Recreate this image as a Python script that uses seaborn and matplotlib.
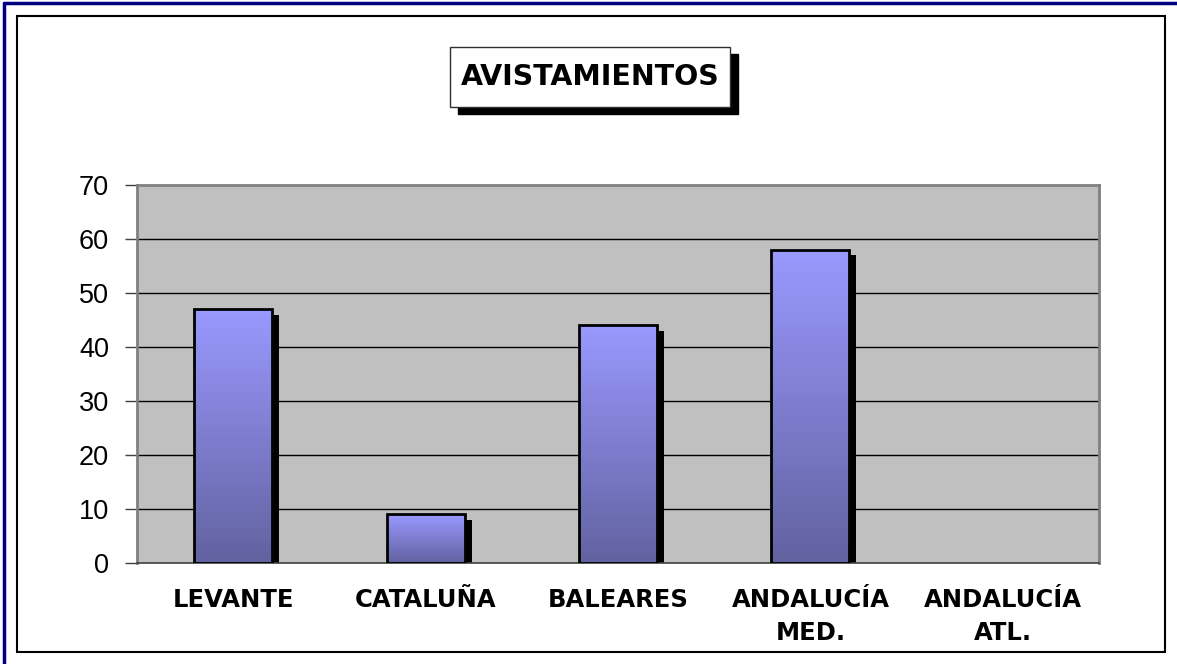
import numpy as np
import pandas as pd
import matplotlib
matplotlib.use('Agg')
import matplotlib.pyplot as plt
import matplotlib.patheffects as pe
from matplotlib.patches import Rectangle
from matplotlib.colors import LinearSegmentedColormap
import seaborn as sns

# Data
regiones = ['LEVANTE', 'CATALUÑA', 'BALEARES', 'ANDALUCÍA\nMED.', 'ANDALUCÍA\nATL.']
avistamientos = [47, 9, 44, 58, 0]
y_ticks = [0, 10, 20, 30, 40, 50, 60, 70]
titulo = 'AVISTAMIENTOS'

df = pd.DataFrame({'region': regiones, 'n': avistamientos})

sns.set_style('white')
plt.rcParams['font.family'] = ['DejaVu Sans']
plt.rcParams['text.color'] = 'black'
plt.rcParams['xtick.labelcolor'] = 'black'
plt.rcParams['ytick.labelcolor'] = 'black'

W, H = 1177, 664
fig = plt.figure(figsize=(W / 100, H / 100), dpi=100)
ax = fig.add_axes([137 / W, (H - 563) / H, 962 / W, 378 / H])
ax.set_facecolor('#C0C0C0')

sns.barplot(data=df, x='region', y='n', color='#9999FF', width=0.405,
            saturation=1, ax=ax, zorder=2)

# gradient fill, shadow and edge for each bar
grad = LinearSegmentedColormap.from_list('g', ['#6262A0', '#9999FF'])
g = np.linspace(0, 1, 256).reshape(-1, 1)
for p in ax.patches:
    if p.get_height() <= 0:
        p.set_visible(False)
        continue
    x0, w, h = p.get_x(), p.get_width(), p.get_height()
    p.set_path_effects([pe.SimplePatchShadow(offset=(5, -4), shadow_rgbFace='black', alpha=1),
                        pe.Normal()])
    im = ax.imshow(g, cmap=grad, aspect='auto', origin='lower',
                   extent=(x0, x0 + w, 0, h), zorder=2.5)
    im.set_clip_path(p)
    ax.add_patch(Rectangle((x0, 0), w, h, fill=False, edgecolor='black',
                           lw=2, zorder=3))

ax.set_xlim(-0.5, len(regiones) - 0.5)
ax.set_ylim(0, 70)
ax.set_yticks(y_ticks)
ax.set_yticklabels([str(t) for t in y_ticks], fontsize=19.5, family='Liberation Sans',
                   color='black')
for t in y_ticks[1:-1]:
    ax.axhline(t, color='black', lw=1, zorder=1)

ax.set_xticks(range(len(regiones)))
ax.set_xticklabels(regiones, fontsize=17.5, fontweight='bold', linespacing=1.45,
                   color='black')
ax.tick_params(axis='x', which='major', length=0, pad=18)
ax.set_xticks(np.arange(-0.5, len(regiones)), minor=True)
ax.tick_params(axis='x', which='minor', length=6, width=1, color='#404040', direction='out')
ax.tick_params(axis='y', length=9, width=1, color='#404040', direction='out', pad=11, left=True)
ax.set_xlabel('')
ax.set_ylabel('')

for s in ['left', 'top', 'right']:
    ax.spines[s].set_color('#808080')
    ax.spines[s].set_linewidth(2)
ax.spines['bottom'].set_color('#404040')
ax.spines['bottom'].set_linewidth(1.2)

# chart frame and outer border
fig.patches.append(Rectangle((17 / W, (H - 652) / H), (1165 - 17) / W, (652 - 16) / H,
                             transform=fig.transFigure, fill=False, edgecolor='black', lw=1.5))
fig.add_artist(plt.Line2D([4 / W, 4 / W], [0, 1 - 3 / H], color='#000080', lw=2.5))
fig.add_artist(plt.Line2D([4 / W, 1], [1 - 3 / H, 1 - 3 / H], color='#000080', lw=2.5))

# title box with shadow
bx0, by0, bx1, by1 = 450, 47, 730, 107
fig.patches.append(Rectangle(((bx0 + 8) / W, (H - by1 - 7) / H), (bx1 - bx0) / W, (by1 - by0) / H,
                             transform=fig.transFigure, facecolor='black', edgecolor='black'))
fig.patches.append(Rectangle((bx0 / W, (H - by1) / H), (bx1 - bx0) / W, (by1 - by0) / H,
                             transform=fig.transFigure, facecolor='white', edgecolor='#303030', lw=1))
fig.text((bx0 + bx1) / 2 / W, 1 - 77 / H, titulo, ha='center', va='center',
         fontsize=20.5, fontweight='bold', color='black')

fig.savefig('out.png', dpi=100)
